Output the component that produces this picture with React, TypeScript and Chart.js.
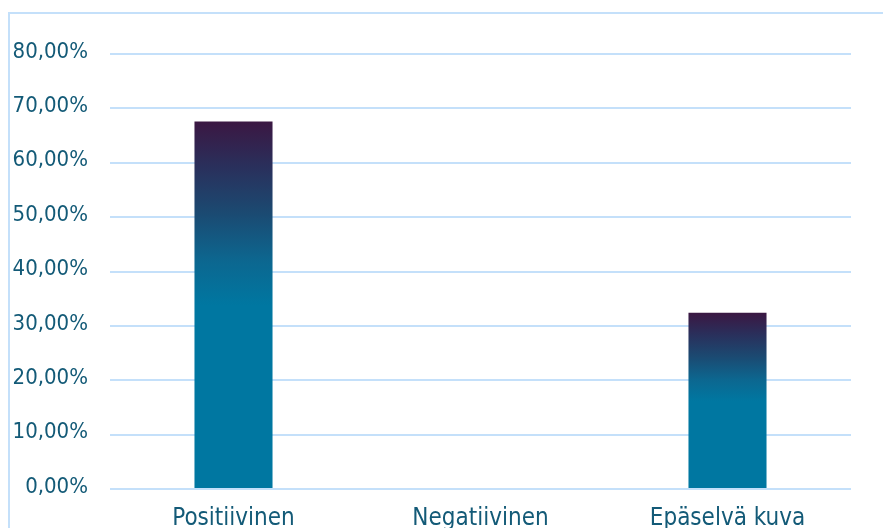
import React, { useEffect, useRef } from "react";
import { Chart, registerables } from "chart.js";

Chart.register(...registerables);

// Survey result shares (%)
const categories = ["Positiivinen", "Negatiivinen", "Epäselvä kuva"];
const shares = [67.6, 0, 32.4];
const yMin = 0;
const yMax = 80;
const yStep = 10;

const TEXT = "#135a77";
const GRID = "#c4e0fa";
const FONT = "'DejaVu Sans Condensed', 'DejaVu Sans', sans-serif";

const CANVAS_W = 883;
const CANVAS_H = 560;

// Per-bar vertical gradient: teal lower half fading to plum at the top
function barFill(ctx: any) {
  const chart = ctx.chart;
  if (!chart.chartArea || ctx.type !== "data") return "#0077a1";
  const y = chart.scales.y;
  const v = shares[ctx.dataIndex] ?? 0;
  const top = y.getPixelForValue(v);
  const bottom = y.getPixelForValue(0);
  if (bottom - top < 1) return "#0077a1";
  const g = chart.ctx.createLinearGradient(0, bottom, 0, top);
  g.addColorStop(0, "#0077a1");
  g.addColorStop(0.5, "#0077a1");
  g.addColorStop(0.62, "#0c6790");
  g.addColorStop(0.75, "#1b4a72");
  g.addColorStop(0.88, "#2a2f5b");
  g.addColorStop(1, "#3b1742");
  return g;
}

// Thin light-blue frame along the top and left edges
const framePlugin = {
  id: "frame",
  beforeDraw(chart: any) {
    const c = chart.ctx;
    c.save();
    c.strokeStyle = GRID;
    c.lineWidth = 2;
    c.beginPath();
    c.moveTo(9, chart.height);
    c.lineTo(9, 13);
    c.lineTo(chart.width, 13);
    c.stroke();
    c.restore();
  },
};

export default function App() {
  const ref = useRef<HTMLCanvasElement | null>(null);

  useEffect(() => {
    if (!ref.current) return;
    const chart = new Chart(ref.current, {
      type: "bar",
      data: {
        labels: categories,
        datasets: [
          {
            data: shares,
            backgroundColor: barFill,
            borderWidth: 0,
            categoryPercentage: 1,
            barPercentage: 0.316,
          },
        ],
      },
      options: {
        responsive: false,
        animation: false,
        devicePixelRatio: 1,
        layout: { padding: { top: 54, right: 32, left: 0, bottom: 0 } },
        plugins: {
          legend: { display: false },
          tooltip: { enabled: false },
        },
        scales: {
          x: {
            grid: { display: false, drawTicks: false },
            border: { display: false },
            ticks: {
              color: TEXT,
              font: { family: FONT, size: 24 },
              padding: 15,
              maxRotation: 0,
            },
            afterFit(scale: any) {
              scale.height = 71;
            },
          },
          y: {
            min: yMin,
            max: yMax,
            grid: { color: GRID, lineWidth: 2, drawTicks: false },
            border: { display: false },
            ticks: {
              stepSize: yStep,
              color: TEXT,
              font: { family: FONT, size: 22 },
              padding: 22,
              labelOffset: -2,
              callback: (v: any) => Number(v).toFixed(2).replace(".", ",") + "%",
            },
            afterFit(scale: any) {
              scale.width = 110;
            },
          },
        },
      },
      plugins: [framePlugin],
    });
    return () => chart.destroy();
  }, []);

  return (
    <div style={{ position: "absolute", left: 0, top: 0, width: CANVAS_W, height: CANVAS_H, background: "#fff" }}>
      <canvas ref={ref} width={CANVAS_W} height={CANVAS_H} style={{ display: "block" }} />
    </div>
  );
}
